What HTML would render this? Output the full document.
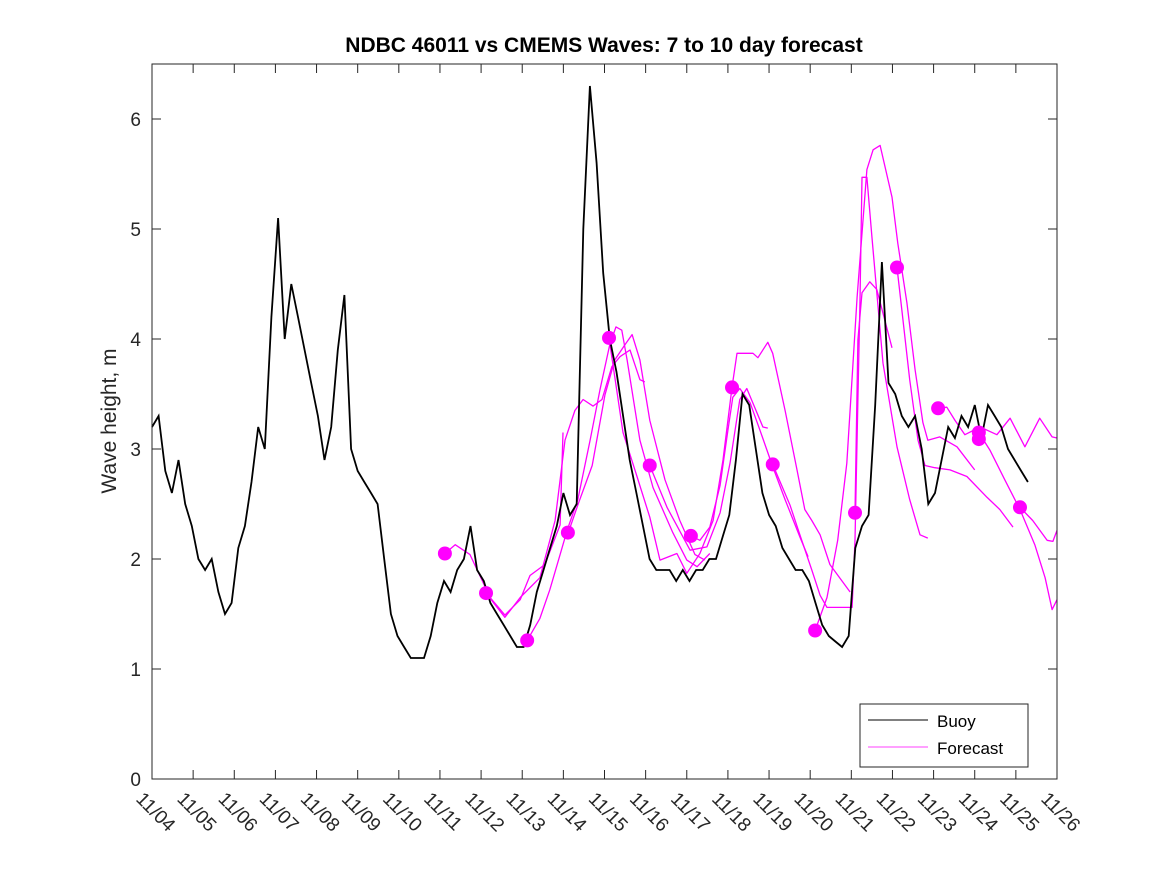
<!DOCTYPE html>
<html><head><meta charset="utf-8"><style>
html,body{margin:0;padding:0;background:#fff;}
svg{display:block;font-family:"Liberation Sans",sans-serif;}
</style></head><body>
<svg id="chart" width="1167" height="875" viewBox="0 0 1167 875" xmlns="http://www.w3.org/2000/svg">
<rect x="0" y="0" width="1167" height="875" fill="#fff"/>
<rect x="152" y="64" width="905" height="715" fill="#fff"/>
<text x="604" y="52" text-anchor="middle" font-size="21" font-weight="bold" fill="#000">NDBC 46011 vs CMEMS Waves: 7 to 10 day forecast</text>
<text transform="translate(116,421) rotate(-90)" text-anchor="middle" font-size="21" fill="#262626">Wave height, m</text>
<g id="grid-ticks"></g>
<g id="series"></g>
<rect x="152" y="64" width="905" height="715" fill="none" stroke="#262626" stroke-width="1"/>
<g>
<rect x="860" y="704" width="168" height="63" fill="#fff" stroke="#262626" stroke-width="1"/>
<line x1="868" y1="720" x2="928" y2="720" stroke="#000" stroke-width="1"/>
<text x="937" y="727" font-size="17" fill="#000">Buoy</text>
<line x1="868" y1="747" x2="928" y2="747" stroke="#ff00ff" stroke-width="0.8"/>
<text x="937" y="754" font-size="17" fill="#000">Forecast</text>
</g>
</svg>
<script>
const xTickLabels = ["11/04","11/05","11/06","11/07","11/08","11/09","11/10","11/11","11/12","11/13","11/14","11/15","11/16","11/17","11/18","11/19","11/20","11/21","11/22","11/23","11/24","11/25","11/26"];
const yTickValues = [0,1,2,3,4,5,6];
const buoyStartDay = 4.0;
const buoyStepDays = 0.1613;
const buoyValues = [
3.2,3.3,2.8,2.6,2.9,2.5,
2.3,2.0,1.9,2.0,1.7,1.5,
1.6,2.1,2.3,2.7,3.2,3.0,
4.2,5.1,4.0,4.5,4.2,3.9,
3.6,3.3,2.9,3.2,3.9,4.4,
3.0,2.8,2.7,2.6,2.5,2.0,
1.5,1.3,1.2,1.1,1.1,1.1,
1.3,1.6,1.8,1.7,1.9,2.0,
2.3,1.9,1.8,1.6,1.5,1.4,
1.3,1.2,1.2,1.4,1.7,1.9,
2.1,2.3,2.6,2.4,2.5,5.0,
6.3,5.6,4.6,4.0,3.7,3.3,
2.9,2.6,2.3,2.0,1.9,1.9,
1.9,1.8,1.9,1.8,1.9,1.9,
2.0,2.0,2.2,2.4,2.9,3.5,
3.4,3.0,2.6,2.4,2.3,2.1,
2.0,1.9,1.9,1.8,1.6,1.4,
1.3,1.25,1.2,1.3,2.1,2.3,
2.4,3.4,4.7,3.6,3.5,3.3,
3.2,3.3,3.0,2.5,2.6,2.9,
3.2,3.1,3.3,3.2,3.4,3.1,
3.4,3.3,3.2,3.0,2.9,2.8,2.7];
const fcA_days = [11.12,11.37,11.73,12.22,12.58,12.95,13.19,13.55,13.92,13.99];
const fcA_vals = [2.05,2.13,2.04,1.65,1.49,1.63,1.85,1.95,2.31,3.15];
const fcB_days = [12.12,12.58,12.95,13.43,13.80,14.04,14.28,14.48,14.72,14.94,15.18,15.38,15.62,15.86,15.98];
const fcB_vals = [1.69,1.47,1.65,1.83,2.35,3.08,3.35,3.45,3.39,3.45,3.75,3.84,3.90,3.63,3.61];
const fcC_days = [13.12,13.43,13.67,13.92,14.09,14.35,14.65,14.89,15.13,15.28,15.42,15.55,15.86,16.18,16.66,17.00,17.25,17.56];
const fcC_vals = [1.26,1.46,1.72,2.04,2.26,2.54,3.08,3.54,3.95,4.11,4.08,3.81,3.08,2.65,2.24,1.99,1.93,2.05];
const fcD_days = [14.12,14.35,14.70,15.01,15.25,15.50,15.67,15.86,16.10,16.47,16.83,17.20,17.44];
const fcD_vals = [2.24,2.49,2.85,3.49,3.81,3.95,4.04,3.81,3.26,2.72,2.35,2.04,1.99];
const fcE_days = [15.11,15.45,15.79,16.10,16.35,16.76,17.00,17.32,17.64,17.88,18.10,18.22,18.61,18.73,18.97,19.09,19.39,19.68,19.87,20.04,20.24,20.48,20.97];
const fcE_vals = [4.01,3.15,2.75,2.38,1.99,2.05,1.87,2.05,2.35,2.90,3.56,3.87,3.87,3.83,3.97,3.87,3.35,2.81,2.45,2.35,2.22,1.95,1.70];
const fcF_days = [16.10,16.52,17.08,17.49,17.81,18.05,18.29,18.46,18.85,18.97];
const fcF_vals = [2.85,2.47,2.08,2.11,2.42,2.87,3.45,3.55,3.20,3.19];
const fcG_days = [17.10,17.32,17.56,17.81,18.00,18.12,18.29,18.54,18.78,19.09,19.39,19.75,19.95];
const fcG_vals = [2.21,2.17,2.29,2.67,3.17,3.47,3.55,3.42,3.17,2.84,2.54,2.20,2.02];
const fcH_days = [19.09,19.51,19.75,20.04,20.24,20.41,21.02,21.09,21.16,21.21,21.26,21.38,21.50,21.77,22.11,22.42,22.67,22.86];
const fcH_vals = [2.86,2.49,2.22,1.90,1.67,1.56,1.56,2.17,3.45,4.35,5.47,5.47,4.93,3.78,3.02,2.54,2.22,2.19];
const fcI_days = [20.12,20.41,20.67,20.89,21.14,21.38,21.53,21.70,21.99,22.13,22.35,22.55,22.74,22.86,23.15,23.57,24.00];
const fcI_vals = [1.35,1.65,2.17,2.87,4.38,5.54,5.72,5.76,5.29,4.87,4.33,3.72,3.24,3.08,3.11,3.02,2.81];
const fcJ_days = [21.09,21.16,21.26,21.45,21.62,21.99];
const fcJ_vals = [2.42,3.99,4.42,4.52,4.45,3.92];
const fcK_days = [22.11,22.23,22.42,22.62,22.79,23.03,23.40,23.81,24.30,24.61,24.93];
const fcK_vals = [4.65,4.26,3.63,3.08,2.85,2.83,2.81,2.75,2.56,2.45,2.29];
const fcL_days = [23.11,23.32,23.52,23.76,24.13,24.54,24.86,25.22,25.58,25.88,26.00];
const fcL_vals = [3.37,3.38,3.26,3.13,3.20,3.13,3.28,3.02,3.28,3.11,3.10];
const fcM_days = [24.10,24.37,24.73,25.10,25.46,25.71,25.88,26.00];
const fcM_vals = [3.15,2.99,2.72,2.45,2.13,1.83,1.54,1.63];
const fcN_days = [25.10,25.41,25.76,25.90,26.00];
const fcN_vals = [2.47,2.35,2.17,2.16,2.26];
const dotDays = [11.12,12.12,13.12,14.11,15.11,16.10,17.10,18.10,19.09,20.12,21.09,22.11,23.11,24.10,24.10,25.10];
const dotVals = [2.05,1.69,1.26,2.24,4.01,2.85,2.21,3.56,2.86,1.35,2.42,4.65,3.37,3.15,3.09,2.47];

const NS = "http://www.w3.org/2000/svg";
const X0 = 152, X1 = 1057, Y0 = 779, Y1 = 64;
const dayMin = 4, dayMax = 26, vMin = 0, vMax = 6.5;
function xs(d){ return X0 + (d - dayMin) / (dayMax - dayMin) * (X1 - X0); }
function ys(v){ return Y0 - (v - vMin) / (vMax - vMin) * (Y0 - Y1); }
function mk(tag, attrs){ const e = document.createElementNS(NS, tag); for (const k in attrs) e.setAttribute(k, attrs[k]); return e; }

const g = document.getElementById('grid-ticks');
xTickLabels.forEach((lab, i) => {
  const x = xs(dayMin + i);
  const t1 = mk('line', {x1:x, y1:Y0, x2:x, y2:Y0-9, stroke:'#262626', 'stroke-width':1});
  
  
  g.appendChild(t1);
  const t2 = mk('line', {x1:x, y1:Y1, x2:x, y2:Y1+9, stroke:'#262626', 'stroke-width':1});
  
  
  g.appendChild(t2);
  const tx = mk('text', {transform:'translate(' + (x-8) + ',' + (Y0+12) + ') rotate(45)', 'font-size':19, fill:'#262626', 'dominant-baseline':'hanging'});
  tx.textContent = lab;
  
  
  g.appendChild(tx);
});
yTickValues.forEach(v => {
  const y = ys(v);
  const t1 = mk('line', {x1:X0, y1:y, x2:X0+9, y2:y, stroke:'#262626', 'stroke-width':1});
  
  
  g.appendChild(t1);
  const t2 = mk('line', {x1:X1, y1:y, x2:X1-9, y2:y, stroke:'#262626', 'stroke-width':1});
  
  
  g.appendChild(t2);
  const tx = mk('text', {x:X0-11, y:y+7, 'text-anchor':'end', 'font-size':19, fill:'#262626'});
  tx.textContent = String(v);
  
  
  g.appendChild(tx);
});

const s = document.getElementById('series');
const forecasts = [[fcA_days,fcA_vals],[fcB_days,fcB_vals],[fcC_days,fcC_vals],[fcD_days,fcD_vals],[fcE_days,fcE_vals],[fcF_days,fcF_vals],[fcG_days,fcG_vals],[fcH_days,fcH_vals],[fcI_days,fcI_vals],[fcJ_days,fcJ_vals],[fcK_days,fcK_vals],[fcL_days,fcL_vals],[fcM_days,fcM_vals],[fcN_days,fcN_vals]];
forecasts.forEach(([ds, vs]) => {
  const pts = ds.map((d, i) => xs(d).toFixed(1) + ',' + ys(vs[i]).toFixed(1)).join(' ');
  const pl = mk('polyline', {points:pts, fill:'none', stroke:'#ff00ff', 'stroke-width':1.3, 'stroke-linejoin':'round'});
  
  
  s.appendChild(pl);
});
const bpts = buoyValues.map((v, i) => xs(buoyStartDay + i * buoyStepDays).toFixed(1) + ',' + ys(v).toFixed(1)).join(' ');
const bl = mk('polyline', {points:bpts, fill:'none', stroke:'#000', 'stroke-width':1.8, 'stroke-linejoin':'miter'});


s.appendChild(bl);
dotDays.forEach((d, i) => {
  const c = mk('circle', {cx:xs(d), cy:ys(dotVals[i]), r:7, fill:'#ff00ff'});
  
  
  s.appendChild(c);
});
</script>
</body></html>
